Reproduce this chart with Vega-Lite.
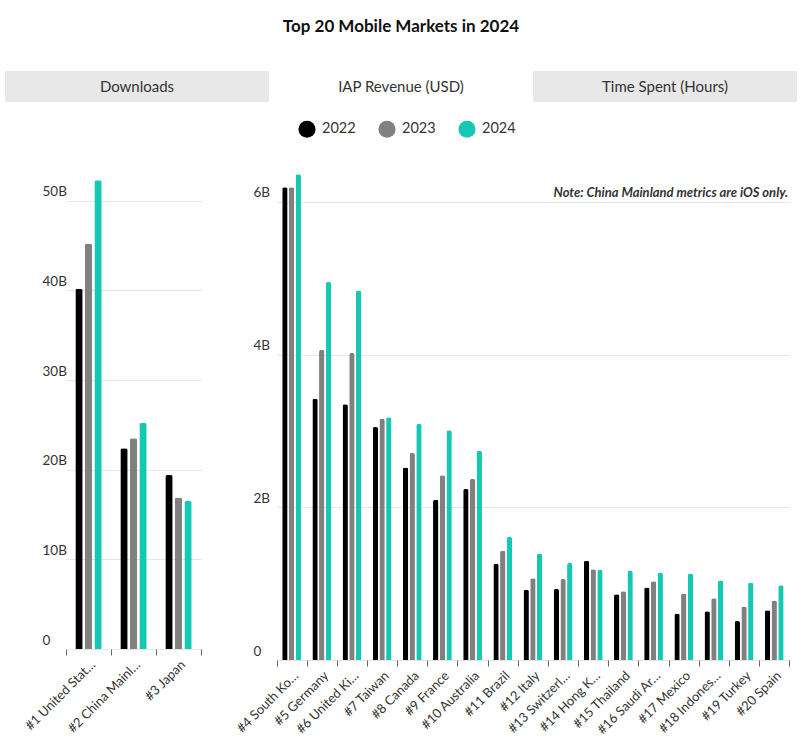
{
  "$schema": "https://vega.github.io/schema/vega-lite/v6.json",
  "padding": {"left": 5, "top": 18, "right": 8, "bottom": 5},
  "background": "white",
  "title": {"text": "Top 20 Mobile Markets in 2024", "font": "Lato", "fontSize": 17, "fontWeight": "bold", "color": "#111111", "anchor": "middle", "frame": "bounds", "offset": 35},
  "config": {
    "view": {"stroke": null},
    "font": "Lato",
    "axis": {"labelFont": "Lato", "labelColor": "#333333", "titleFont": "Lato"},
    "legend": {"labelFont": "Lato"}
  },
  "bounds": "flush",
  "spacing": 54,
  "datasets": {
    "tabs": [
      {"tab": "Downloads", "active": false},
      {"tab": "IAP Revenue (USD)", "active": true},
      {"tab": "Time Spent (Hours)", "active": false}
    ],
    "note": [
      {"market": "#20 Spain", "level": 6, "text": "Note: China Mainland metrics are iOS only."}
    ],
    "top3": [
      {"market": "#1 United States", "year": "2022", "revenue": 40.2},
      {"market": "#1 United States", "year": "2023", "revenue": 45.2},
      {"market": "#1 United States", "year": "2024", "revenue": 52.3},
      {"market": "#2 China Mainland", "year": "2022", "revenue": 22.4},
      {"market": "#2 China Mainland", "year": "2023", "revenue": 23.5},
      {"market": "#2 China Mainland", "year": "2024", "revenue": 25.2},
      {"market": "#3 Japan", "year": "2022", "revenue": 19.4},
      {"market": "#3 Japan", "year": "2023", "revenue": 16.9},
      {"market": "#3 Japan", "year": "2024", "revenue": 16.5}
    ],
    "rest": [
      {"market": "#4 South Korea", "year": "2022", "revenue": 6.19},
      {"market": "#4 South Korea", "year": "2023", "revenue": 6.19},
      {"market": "#4 South Korea", "year": "2024", "revenue": 6.36},
      {"market": "#5 Germany", "year": "2022", "revenue": 3.42},
      {"market": "#5 Germany", "year": "2023", "revenue": 4.06},
      {"market": "#5 Germany", "year": "2024", "revenue": 4.95},
      {"market": "#6 United Kingdom", "year": "2022", "revenue": 3.35},
      {"market": "#6 United Kingdom", "year": "2023", "revenue": 4.02},
      {"market": "#6 United Kingdom", "year": "2024", "revenue": 4.84},
      {"market": "#7 Taiwan", "year": "2022", "revenue": 3.05},
      {"market": "#7 Taiwan", "year": "2023", "revenue": 3.16},
      {"market": "#7 Taiwan", "year": "2024", "revenue": 3.18},
      {"market": "#8 Canada", "year": "2022", "revenue": 2.52},
      {"market": "#8 Canada", "year": "2023", "revenue": 2.71},
      {"market": "#8 Canada", "year": "2024", "revenue": 3.09},
      {"market": "#9 France", "year": "2022", "revenue": 2.10},
      {"market": "#9 France", "year": "2023", "revenue": 2.42},
      {"market": "#9 France", "year": "2024", "revenue": 3.01},
      {"market": "#10 Australia", "year": "2022", "revenue": 2.24},
      {"market": "#10 Australia", "year": "2023", "revenue": 2.37},
      {"market": "#10 Australia", "year": "2024", "revenue": 2.74},
      {"market": "#11 Brazil", "year": "2022", "revenue": 1.26},
      {"market": "#11 Brazil", "year": "2023", "revenue": 1.43},
      {"market": "#11 Brazil", "year": "2024", "revenue": 1.61},
      {"market": "#12 Italy", "year": "2022", "revenue": 0.92},
      {"market": "#12 Italy", "year": "2023", "revenue": 1.07},
      {"market": "#12 Italy", "year": "2024", "revenue": 1.39},
      {"market": "#13 Switzerland", "year": "2022", "revenue": 0.93},
      {"market": "#13 Switzerland", "year": "2023", "revenue": 1.06},
      {"market": "#13 Switzerland", "year": "2024", "revenue": 1.27},
      {"market": "#14 Hong Kong", "year": "2022", "revenue": 1.30},
      {"market": "#14 Hong Kong", "year": "2023", "revenue": 1.19},
      {"market": "#14 Hong Kong", "year": "2024", "revenue": 1.18},
      {"market": "#15 Thailand", "year": "2022", "revenue": 0.86},
      {"market": "#15 Thailand", "year": "2023", "revenue": 0.90},
      {"market": "#15 Thailand", "year": "2024", "revenue": 1.17},
      {"market": "#16 Saudi Arabia", "year": "2022", "revenue": 0.95},
      {"market": "#16 Saudi Arabia", "year": "2023", "revenue": 1.03},
      {"market": "#16 Saudi Arabia", "year": "2024", "revenue": 1.14},
      {"market": "#17 Mexico", "year": "2022", "revenue": 0.61},
      {"market": "#17 Mexico", "year": "2023", "revenue": 0.87},
      {"market": "#17 Mexico", "year": "2024", "revenue": 1.13},
      {"market": "#18 Indonesia", "year": "2022", "revenue": 0.64},
      {"market": "#18 Indonesia", "year": "2023", "revenue": 0.81},
      {"market": "#18 Indonesia", "year": "2024", "revenue": 1.04},
      {"market": "#19 Turkey", "year": "2022", "revenue": 0.51},
      {"market": "#19 Turkey", "year": "2023", "revenue": 0.70},
      {"market": "#19 Turkey", "year": "2024", "revenue": 1.01},
      {"market": "#20 Spain", "year": "2022", "revenue": 0.65},
      {"market": "#20 Spain", "year": "2023", "revenue": 0.78},
      {"market": "#20 Spain", "year": "2024", "revenue": 0.98}
    ]
  },
  "vconcat": [
    {
      "width": 755,
      "height": 31,
      "data": {"name": "tabs"},
      "encoding": {
        "x": {"field": "tab", "type": "nominal", "sort": null, "scale": {"range": [-37, 755], "paddingInner": 0, "paddingOuter": 0}, "axis": null}
      },
      "layer": [
        {
          "mark": {"type": "bar", "clip": false},
          "encoding": {
            "color": {"condition": {"test": "datum.active", "value": "#ffffff"}, "value": "#e8e8e8"}
          }
        },
        {
          "mark": {"type": "text", "font": "Lato", "fontSize": 15, "color": "#333333", "baseline": "middle", "align": "center"},
          "encoding": {"text": {"field": "tab"}}
        }
      ]
    },
    {
      "bounds": "flush",
      "spacing": 51,
      "resolve": {"scale": {"xOffset": "independent", "x": "independent", "y": "independent"}},
      "hconcat": [
        {
          "width": 160,
          "height": 493,
          "layer": [
            {
              "data": {"name": "top3"},
              "mark": {"type": "bar", "cornerRadiusEnd": 2},
              "encoding": {
                "x": {"field": "market", "type": "nominal", "sort": null, "title": null,
                  "scale": {"range": [24, 159], "paddingInner": 0, "paddingOuter": 0},
                  "axis": {"domain": false, "tickBand": "extent", "tickColor": "#666666", "tickSize": 6, "labelAngle": -45, "labelFontSize": 13, "labelLimit": 200, "labelPadding": 3,
                    "labelExpr": "datum.label == '#1 United States' ? '#1 United Stat…' : datum.label == '#2 China Mainland' ? '#2 China Mainl…' : datum.label"}},
                "xOffset": {"field": "year", "type": "nominal", "scale": {"paddingInner": 0.23, "paddingOuter": 0.98}},
                "y": {"field": "revenue", "type": "quantitative", "title": null,
                  "scale": {"domain": [0, 55], "nice": false},
                  "axis": {"values": [0, 10, 20, 30, 40, 50], "domain": false, "ticks": false, "grid": true, "gridColor": "#e6e6e6", "labelAlign": "left", "labelBaseline": "alphabetic", "labelPadding": 0, "labelOffset": -5, "labelFontSize": 13.5, "labelExpr": "datum.value == 0 ? '0' : datum.value + 'B'"}},
                "color": {"field": "year", "type": "nominal", "scale": {"domain": ["2022", "2023", "2024"], "range": ["#000000", "#808080", "#14c8b4"]},
                  "legend": {"orient": "none", "legendX": 256, "legendY": 49, "direction": "horizontal", "title": null, "symbolType": "circle", "symbolSize": 290, "symbolStrokeWidth": 0, "symbolOpacity": 1, "labelFontSize": 14.5, "labelColor": "#333333", "labelOffset": 6, "columnPadding": 22}}
              }
            },
            {
              "mark": {"type": "rule", "color": "#333333", "strokeWidth": 1},
              "encoding": {"y": {"datum": 0}}
            }
          ]
        },
        {
          "width": 544,
          "height": 504,
          "layer": [
            {
              "data": {"name": "rest"},
              "mark": {"type": "bar", "cornerRadiusEnd": 2},
              "encoding": {
                "x": {"field": "market", "type": "nominal", "sort": null, "title": null,
                  "scale": {"domain": ["#4 South Korea", "#5 Germany", "#6 United Kingdom", "#7 Taiwan", "#8 Canada", "#9 France", "#10 Australia", "#11 Brazil", "#12 Italy", "#13 Switzerland", "#14 Hong Kong", "#15 Thailand", "#16 Saudi Arabia", "#17 Mexico", "#18 Indonesia", "#19 Turkey", "#20 Spain"], "range": [23.5, 536.3], "paddingInner": 0, "paddingOuter": 0},
                  "axis": {"domain": false, "tickBand": "extent", "tickColor": "#666666", "tickSize": 6, "labelAngle": -45, "labelFontSize": 13, "labelLimit": 200, "labelPadding": 3,
                    "labelExpr": "datum.label == '#4 South Korea' ? '#4 South Ko…' : datum.label == '#6 United Kingdom' ? '#6 United Ki…' : datum.label == '#13 Switzerland' ? '#13 Switzerl…' : datum.label == '#14 Hong Kong' ? '#14 Hong K…' : datum.label == '#16 Saudi Arabia' ? '#16 Saudi Ar…' : datum.label == '#18 Indonesia' ? '#18 Indones…' : datum.label"}},
                "xOffset": {"field": "year", "type": "nominal", "scale": {"paddingInner": 0.2, "paddingOuter": 0.85}},
                "y": {"field": "revenue", "type": "quantitative", "title": null,
                  "scale": {"domain": [0, 6.6], "nice": false},
                  "axis": {"values": [0, 2, 4, 6], "domain": false, "ticks": false, "grid": true, "gridColor": "#e6e6e6", "labelAlign": "left", "labelBaseline": "alphabetic", "labelPadding": 0, "labelOffset": -5, "labelFontSize": 13.5, "labelExpr": "datum.value == 0 ? '0' : datum.value + 'B'"}},
                "color": {"field": "year", "type": "nominal", "scale": {"domain": ["2022", "2023", "2024"], "range": ["#000000", "#808080", "#14c8b4"]},
                  "legend": {"orient": "none", "legendX": 256, "legendY": 49, "direction": "horizontal", "title": null, "symbolType": "circle", "symbolSize": 290, "symbolStrokeWidth": 0, "symbolOpacity": 1, "labelFontSize": 14.5, "labelColor": "#333333", "labelOffset": 6, "columnPadding": 22}}
              }
            },
            {
              "mark": {"type": "rule", "color": "#333333", "strokeWidth": 1},
              "encoding": {"y": {"datum": 0}}
            },
            {
              "data": {"name": "note"},
              "mark": {"type": "text", "font": "Lato", "fontSize": 13, "fontStyle": "italic", "fontWeight": "bold", "color": "#333333", "align": "right", "baseline": "alphabetic", "dx": 14, "dy": -5},
              "encoding": {"x": {"field": "market", "type": "nominal", "sort": null}, "y": {"field": "level", "type": "quantitative"}, "text": {"field": "text"}}
            }
          ]
        }
      ]
    }
  ]
}
